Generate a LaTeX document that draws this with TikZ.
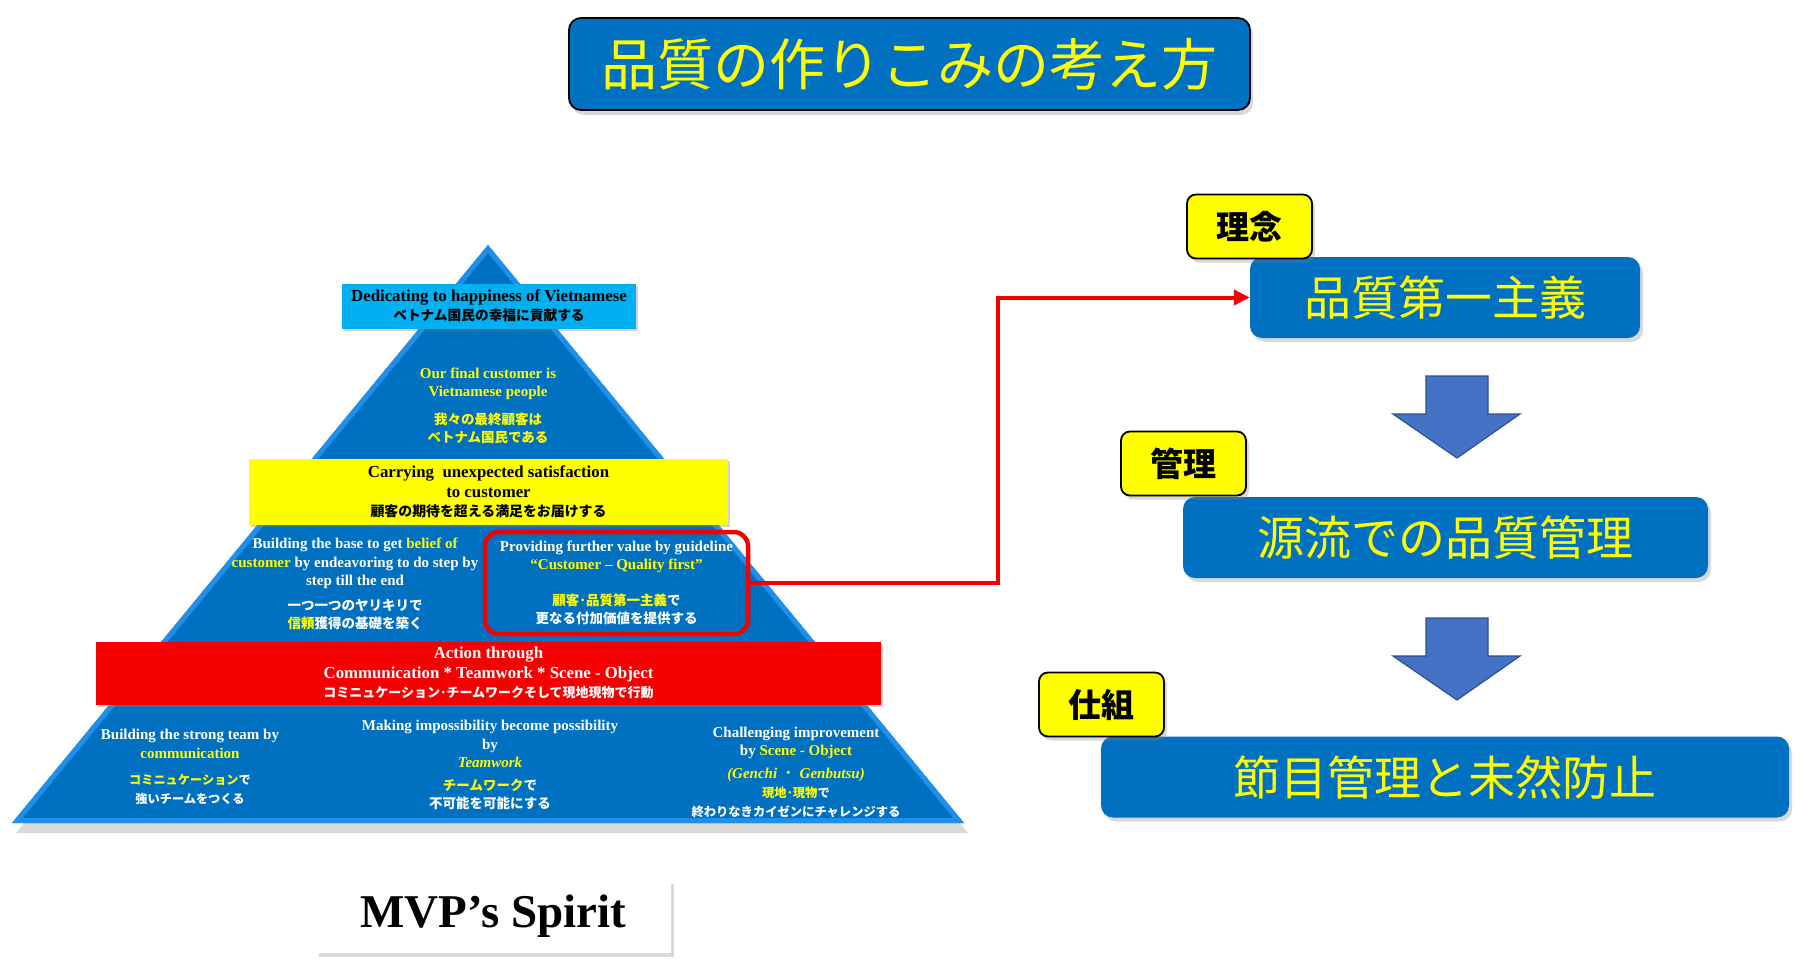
\documentclass[tikz,border=0pt]{standalone}
\usepackage{fontspec}
\setmainfont{Liberation Serif}
\newfontfamily\jp{Noto Sans CJK JP}
\usetikzlibrary{arrows.meta,shadows}
\definecolor{pyrblue}{HTML}{0070C0}
\definecolor{pyrrim}{HTML}{1E8FEA}
\definecolor{cyanbx}{HTML}{00B0F0}
\definecolor{yelbx}{HTML}{FFFF00}
\definecolor{redbx}{HTML}{F50000}
\definecolor{txtyel}{HTML}{FFFF00}
\definecolor{arrblue}{HTML}{4472C4}
\definecolor{arredge}{HTML}{2F4F8F}
\newcommand{\yel}[1]{\textcolor{txtyel}{#1}}
\newcommand{\pyrfont}{\fontsize{15}{18.5}\selectfont\bfseries}
\newcommand{\bandfont}{\fontsize{16.8}{19.5}\selectfont\bfseries}
\newcommand{\jpt}{\jp\fontsize{13.5}{18.5}\selectfont}

\begin{document}
\begin{tikzpicture}[x=1pt,y=-1pt,
  band/.style={rectangle,inner sep=0pt,align=center,font=\bandfont,
    drop shadow={shadow xshift=2pt,shadow yshift=-2pt,opacity=0.35}},
  pyrtext/.style={align=center,font=\pyrfont,text=white,inner sep=0pt},
  bluebox/.style={rectangle,rounded corners=12pt,fill=pyrblue,text=txtyel,
    minimum height=81pt,font=\jp\fontsize{47}{50}\selectfont,
    drop shadow={shadow xshift=3pt,shadow yshift=-4pt,opacity=0.3}},
  tagbox/.style={rectangle,rounded corners=9pt,fill=yelbx,draw=black,line width=1.8pt,
    minimum width=125pt,minimum height=64pt,font=\jp\bfseries\fontsize{33}{36}\selectfont,
    drop shadow={shadow xshift=3pt,shadow yshift=-4pt,opacity=0.3}},
  downarr/.style={fill=arrblue,draw=arredge,line width=1.2pt,line join=miter}]
  \useasboundingbox (0,0) rectangle (1810,972);

  % title
  \node[rectangle,rounded corners=12pt,fill=pyrblue,draw=black,line width=1.8pt,
    minimum width=681pt,minimum height=92pt,text=txtyel,font=\jp\fontsize{56}{60}\selectfont,
    drop shadow={shadow xshift=3pt,shadow yshift=-5pt,opacity=0.3}] (title) at (909.5,64)
    {品質の作りこみの考え方};

  % pyramid body with a light bevel along the edges
  \coordinate (apex) at (488,245);
  \coordinate (baseL) at (12,823);
  \coordinate (baseR) at (964,823);
  \fill[pyrblue,drop shadow={shadow xshift=4pt,shadow yshift=-10pt,opacity=0.3}]
    (apex) -- (baseR) -- (baseL) -- cycle;
  \begin{scope}
    \clip (apex) -- (baseR) -- (baseL) -- cycle;
    \draw[pyrrim,line width=10pt,line join=round] (apex) -- (baseR) -- (baseL) -- cycle;
  \end{scope}

  % top level
  \node[band,fill=cyanbx,minimum width=294pt,minimum height=45pt] (aim) at (489,306)
    {Dedicating to happiness of Vietnamese\\{\jp\fontsize{13.7}{18.5}\selectfont ベトナム国民の幸福に貢献する}};
  \node[pyrtext,text=txtyel] (final) at (488,406)
    {Our final customer is\\Vietnamese people\\[9pt]{\jpt 我々の最終顧客は}\\{\jpt ベトナム国民である}};

  % second level
  \node[band,fill=yelbx,minimum width=479pt,minimum height=66pt] (satis) at (488.5,492)
    {Carrying\ \ unexpected satisfaction\\to customer\\{\jp\fontsize{13.9}{18.5}\selectfont 顧客の期待を超える満足をお届けする}};
  \node[pyrtext] (belief) at (355,584)
    {Building the base to get \yel{belief of}\\\yel{customer} by endeavoring to do step by\\step till the end\\[6pt]{\jpt 一つ一つのヤリキリで}\\{\jpt\yel{信頼}獲得の基礎を築く}};
  \node[pyrtext,draw=redbx,line width=4.5pt,rounded corners=14pt,
    minimum width=263pt,minimum height=102pt] (value) at (616.5,583)
    {Providing further value by guideline\\\yel{“Customer – Quality first”}\\[17pt]{\jpt\yel{顧客･品質第一主義}で}\\{\jpt 更なる付加価値を提供する}};

  % third level
  \node[band,fill=redbx,text=white,minimum width=785pt,minimum height=63pt] (action) at (488.5,673)
    {Action through\\Communication * Teamwork * Scene - Object\\{\jp\fontsize{13}{18.5}\selectfont コミニュケーション･チームワークそして現地現物で行動}};
  \node[pyrtext] (team) at (190,767)
    {Building the strong team by\\\yel{communication}\\[8pt]{\jp\fontsize{12.2}{18}\selectfont\yel{コミニュケーション}で}\\{\jp\fontsize{12.2}{18}\selectfont 強いチームをつくる}};
  \node[pyrtext] (possible) at (490,765)
    {Making impossibility become possibility\\by\\\yel{\itshape Teamwork}\\[4pt]{\jpt\yel{チームワーク}で}\\{\jpt 不可能を可能にする}};
  \node[pyrtext] (kaizen) at (796,772)
    {Challenging improvement\\by \yel{Scene - Object}\\[4pt]\yel{\itshape (Genchi\ \ {\jp ･}\ \ Genbutsu)}\\[1pt]{\jp\fontsize{12.3}{18}\selectfont\yel{現地･現物}で}\\{\jp\fontsize{12.3}{18}\selectfont 終わりなきカイゼンにチャレンジする}};

  \node[rectangle,fill=white,minimum width=355pt,minimum height=73pt,
    font=\bfseries\fontsize{47}{50}\selectfont,
    drop shadow={shadow xshift=3pt,shadow yshift=-4pt,opacity=0.3}] (mvp) at (493.5,916.5)
    {MVP’s Spirit};

  % right side
  \node[bluebox,minimum width=390pt] (q1) at (1445,297.5) {品質第一主義};
  \node[tagbox] (tag1) at (1249.5,226.5) {理念};
  \node[bluebox,minimum width=525pt] (q2) at (1445.5,537.5) {源流での品質管理};
  \node[tagbox] (tag2) at (1183.5,463.5) {管理};
  \node[bluebox,minimum width=688pt] (q3) at (1445,777) {節目管理と未然防止};
  \node[tagbox] (tag3) at (1101.5,704.5) {仕組};

  \foreach \t in {376,618}{
    \draw[downarr] (1426,\t) -- (1488,\t) -- (1488,\t+38) -- (1520,\t+38)
      -- (1457,\t+82) -- (1393,\t+38) -- (1426,\t+38) -- cycle;}

  \coordinate (turn) at (998,583);
  \draw[redbx,line width=4pt,-{Triangle[length=16pt,width=15pt]}]
    (value.east) -- (turn) |- (q1.west);
\end{tikzpicture}
\end{document}
